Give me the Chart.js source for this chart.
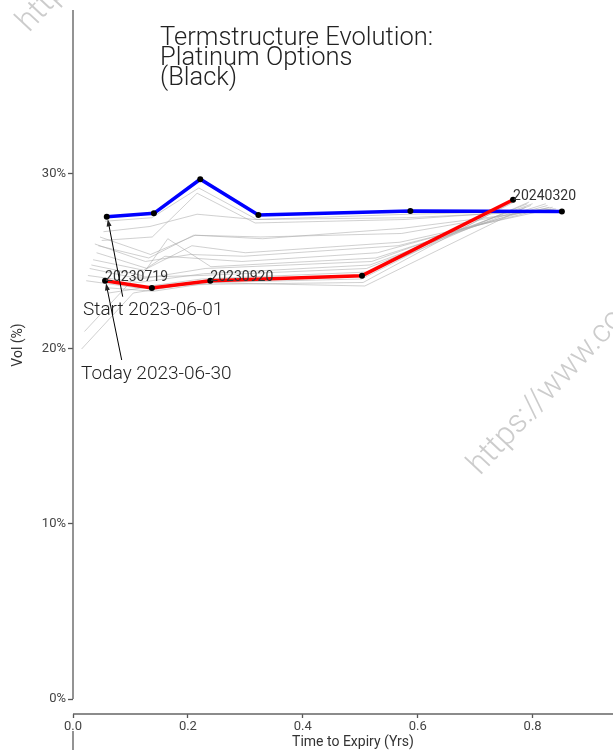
<!DOCTYPE html>
<html>
<head>
<meta charset="utf-8">
<script src="https://cdn.jsdelivr.net/npm/chart.js@4.4.1/dist/chart.umd.min.js"></script>
<style>
html, body { margin: 0; padding: 0; background: #fff; }
#wrap { width: 613px; height: 750px; }
</style>
</head>
<body>
<div id="wrap"><canvas id="termChart" width="613" height="750"></canvas></div>
<script>
// start curve, 2023-06-01
const startX = [0.0588, 0.1408, 0.2215, 0.3227, 0.5873, 0.8510];
const startVol = [27.56, 27.75, 29.70, 27.66, 27.89, 27.85];

// today curve, 2023-06-30
const todayX = [0.0558, 0.1373, 0.2390, 0.5030, 0.7660];
const todayVol = [23.90, 23.49, 23.90, 24.19, 28.53];
const todayExpiry = ['20230719', '', '20230920', '', '20240320'];

// daily curves in between (grey)
const histX = [
  [0.056, 0.137, 0.219, 0.320, 0.584, 0.847],
  [0.053, 0.134, 0.216, 0.317, 0.581, 0.844],
  [0.050, 0.138, 0.216, 0.317, 0.578, 0.841],
  [0.047, 0.135, 0.213, 0.330, 0.575, 0.838],
  [0.044, 0.132, 0.210, 0.327, 0.572, 0.835],
  [0.041, 0.129, 0.207, 0.300, 0.569, 0.832],
  [0.038, 0.126, 0.204, 0.297, 0.566, 0.829],
  [0.035, 0.123, 0.160, 0.294, 0.530, 0.826],
  [0.032, 0.120, 0.165, 0.240, 0.527, 0.823],
  [0.029, 0.117, 0.230, 0.520, 0.800],
  [0.026, 0.114, 0.227, 0.517, 0.797],
  [0.023, 0.111, 0.224, 0.514, 0.794],
  [0.020, 0.108, 0.221, 0.511, 0.791],
  [0.015, 0.105, 0.218, 0.508, 0.788],
  [0.062, 0.143, 0.245, 0.505, 0.770],
  [0.059, 0.140, 0.242, 0.502, 0.768]
];
const histVol = [
  [27.3, 27.5, 29.2, 27.4, 27.7, 27.9],
  [26.7, 27.0, 27.7, 27.4, 27.5, 27.9],
  [26.2, 26.4, 28.9, 27.2, 27.4, 28.0],
  [26.4, 25.4, 26.5, 26.3, 26.9, 28.0],
  [25.9, 25.2, 26.5, 26.4, 26.6, 28.1],
  [25.5, 24.6, 25.9, 25.5, 26.1, 28.0],
  [26.0, 25.0, 25.4, 25.3, 25.9, 28.1],
  [25.1, 24.5, 25.3, 25.0, 25.5, 28.2],
  [24.8, 24.2, 26.3, 24.7, 25.2, 28.3],
  [24.6, 24.0, 24.6, 25.0, 28.3],
  [24.2, 23.8, 24.3, 24.8, 28.2],
  [23.9, 23.5, 24.0, 24.4, 28.4],
  [21.0, 24.1, 24.2, 24.6, 28.3],
  [20.0, 23.2, 23.8, 23.6, 28.1],
  [23.2, 23.6, 23.7, 23.8, 28.5],
  [23.5, 23.3, 23.8, 24.0, 28.4]
];

const xTicks = [0, 0.2, 0.4, 0.6, 0.8];
const yTicks = [0, 10, 20, 30];

function pts(xs, ys) {
  return xs.map((x, i) => ({ x: x, y: ys[i] }));
}

const datasets = [];
datasets.push({
  label: 'today', data: pts(todayX, todayVol), order: 0,
  borderColor: '#ff0000', borderWidth: 3.5, tension: 0,
  pointRadius: 3, pointBackgroundColor: '#000', pointBorderWidth: 0
});
datasets.push({
  label: 'start', data: pts(startX, startVol), order: 1,
  borderColor: '#0000ff', borderWidth: 3.5, tension: 0,
  pointRadius: 3, pointBackgroundColor: '#000', pointBorderWidth: 0
});
histX.forEach((xs, i) => {
  datasets.push({
    label: 'h' + i, data: pts(xs, histVol[i]), order: 2,
    borderColor: 'rgba(170,170,170,0.55)', borderWidth: 1, tension: 0,
    pointRadius: 0
  });
});

function arrow(ctx, x1, y1, x2, y2) {
  const a = Math.atan2(y2 - y1, x2 - x1);
  ctx.beginPath();
  ctx.moveTo(x1, y1);
  ctx.lineTo(x2 - 5 * Math.cos(a), y2 - 5 * Math.sin(a));
  ctx.stroke();
  ctx.beginPath();
  ctx.moveTo(x2, y2);
  ctx.lineTo(x2 - 7 * Math.cos(a) + 2.5 * Math.sin(a), y2 - 7 * Math.sin(a) - 2.5 * Math.cos(a));
  ctx.lineTo(x2 - 7 * Math.cos(a) - 2.5 * Math.sin(a), y2 - 7 * Math.sin(a) + 2.5 * Math.cos(a));
  ctx.closePath();
  ctx.fill();
}

function watermark(ctx, x, y) {
  ctx.save();
  ctx.fillStyle = '#cccccc';
  ctx.font = '300 32px Roboto';
  ctx.textBaseline = 'alphabetic';
  ctx.translate(x, y);
  ctx.rotate(-47 * Math.PI / 180);
  ctx.fillText('https://www.com', 0, 0);
  ctx.restore();
}

const decor = {
  id: 'decor',
  beforeDatasetsDraw(chart) {
    watermark(chart.ctx, 480, 476);
    watermark(chart.ctx, 29, 33);
  },
  afterDraw(chart) {
    const ctx = chart.ctx;
    const xs = chart.scales.x, ys = chart.scales.y;
    const area = chart.chartArea;
    ctx.save();
    // axis lines: y stops at 0%, x runs to the right edge
    ctx.strokeStyle = '#666';
    ctx.lineWidth = 1.4;
    ctx.beginPath();
    ctx.moveTo(area.left, area.top);
    ctx.lineTo(area.left, ys.getPixelForValue(0));
    ctx.moveTo(area.left, 731);
    ctx.lineTo(area.left, 750);
    ctx.moveTo(area.left, area.bottom);
    ctx.lineTo(613, area.bottom);
    ctx.stroke();

    // title
    ctx.fillStyle = '#222';
    ctx.font = '300 25.5px Roboto';
    ctx.textBaseline = 'alphabetic';
    ctx.textAlign = 'left';
    ctx.fillText('Termstructure Evolution:', 160, 45);
    ctx.fillText('Platinum Options', 160, 65);
    ctx.fillText('(Black)', 160, 85);

    // axis titles
    ctx.fillStyle = '#333';
    ctx.font = '14px Roboto';
    ctx.textAlign = 'center';
    ctx.textBaseline = 'middle';
    ctx.fillText('Time to Expiry (Yrs)', 353, 742);
    ctx.save();
    ctx.translate(18, 345);
    ctx.rotate(-Math.PI / 2);
    ctx.fillText('Vol (%)', 0, 0);
    ctx.restore();

    // expiry labels on today's curve
    ctx.fillStyle = '#333';
    ctx.font = '14px Roboto';
    ctx.textAlign = 'left';
    ctx.textBaseline = 'alphabetic';
    todayExpiry.forEach((lab, i) => {
      if (!lab) return;
      const px = xs.getPixelForValue(todayX[i]);
      const py = ys.getPixelForValue(todayVol[i]);
      ctx.fillText(lab, px, py);
    });

    // annotations
    ctx.fillStyle = '#222';
    ctx.strokeStyle = '#000';
    ctx.lineWidth = 1;
    ctx.font = '300 19px Roboto';
    ctx.fillText('Start 2023-06-01', 83, 315);
    ctx.fillText('Today 2023-06-30', 81, 379);
    const sx = xs.getPixelForValue(startX[0]) + 1, sy = ys.getPixelForValue(startVol[0]) + 2.6;
    arrow(ctx, 122.7, 296.7, sx, sy);
    const tx = xs.getPixelForValue(todayX[0]) + 1, ty = ys.getPixelForValue(todayVol[0]) + 2.6;
    arrow(ctx, 121.7, 360, tx, ty);
    ctx.restore();
  }
};

Chart.defaults.font.family = 'Roboto';

new Chart(document.getElementById('termChart'), {
  type: 'line',
  data: { datasets: datasets },
  plugins: [decor],
  options: {
    responsive: false,
    animation: false,
    layout: { padding: { top: 10, right: 0, left: 0, bottom: 0 } },
    plugins: { legend: { display: false }, tooltip: { enabled: false }, title: { display: false } },
    scales: {
      x: {
        type: 'linear', min: 0, max: 0.933,
        afterBuildTicks: (s) => { s.ticks = xTicks.map(v => ({ value: v })); },
        afterFit: (s) => { s.height = 36; },
        ticks: { color: '#444', font: { size: 13 }, padding: 1, maxRotation: 0,
                 callback: (v) => Number(v).toFixed(1) },
        grid: { drawOnChartArea: false, drawTicks: true, tickLength: 4, color: '#555', tickWidth: 1.3 },
        border: { display: false }
      },
      y: {
        type: 'linear', min: -0.857, max: 39.37,
        afterBuildTicks: (s) => { s.ticks = yTicks.map(v => ({ value: v })); },
        afterFit: (s) => { s.width = 73; },
        ticks: { color: '#444', font: { size: 13 }, padding: 2,
                 callback: (v) => v + '%' },
        grid: { drawOnChartArea: false, drawTicks: true, tickLength: 5, color: '#555', tickWidth: 1.3 },
        border: { display: false }
      }
    }
  }
});
</script>
</body>
</html>
